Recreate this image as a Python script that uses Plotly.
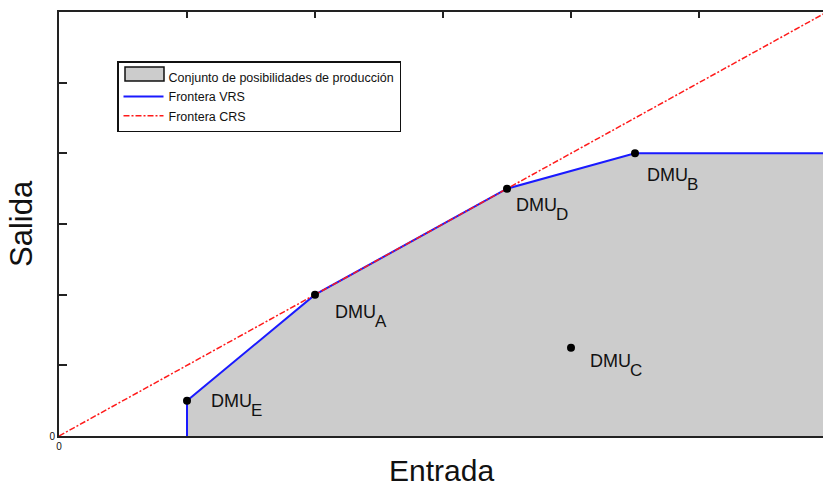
import plotly.graph_objects as go

# Observed DMUs (input, output)
dmu_names = ["A", "B", "C", "D", "E"]
dmu_input = [2.0, 4.5, 4.0, 3.5, 1.0]
dmu_output = [2.0, 4.0, 1.25, 3.5, 0.5]

# VRS frontier vertices (free disposal hull extended to the right edge)
vrs_x = [1.0, 1.0, 2.0, 3.5, 4.5, 6.0]
vrs_y = [0.0, 0.5, 2.0, 3.5, 4.0, 4.0]

# Production possibility set polygon
pps_x = [1.0, 1.0, 2.0, 3.5, 4.5, 6.0, 6.0, 1.0]
pps_y = [0.0, 0.5, 2.0, 3.5, 4.0, 4.0, 0.0, 0.0]

# CRS frontier: ray from the origin through the efficient DMUs
crs_x = [0.0, 6.0]
crs_y = [0.0, 6.0]

# Axis ticks
tick_vals = [0, 1, 2, 3, 4, 5, 6]
tick_text = ["0", "", "", "", "", "", ""]

# Label offsets in pixels (right, down) from each DMU marker
label_dx = {"A": 18, "B": 10, "C": 17, "D": 7, "E": 22}
label_dy = {"A": 17.5, "B": 22, "C": 13.5, "D": 16, "E": 0.5}

FONT = "Liberation Sans, Arial, sans-serif"
GRAY = "#cccccc"
INK = "#111111"

# plot area geometry (pixels) used to place the legend swatch
L, T, W, H = 59, 12, 764, 424


def px_to_paper(px, py):
    return (px - L) / W, (T + H - py) / H


fig = go.Figure()

fig.add_trace(go.Scatter(
    x=pps_x, y=pps_y, mode="lines", fill="toself", fillcolor=GRAY,
    line=dict(width=0), showlegend=False, hoverinfo="skip"))

# legend entry for the production possibility set (swatch drawn as a shape)
fig.add_trace(go.Scatter(
    x=[None], y=[None], mode="lines", fill="toself",
    fillcolor="rgba(0,0,0,0)", line=dict(color="rgba(0,0,0,0)", width=0),
    name="Conjunto de posibilidades de producción"))

fig.add_trace(go.Scatter(
    x=vrs_x, y=vrs_y, mode="lines",
    line=dict(color="#1a1aff", width=2), name="Frontera VRS"))

fig.add_trace(go.Scatter(
    x=crs_x, y=crs_y, mode="lines",
    line=dict(color="#ff1a1a", width=1.5, dash="6px,2px,2px,2px"),
    name="Frontera CRS"))

fig.add_trace(go.Scatter(
    x=dmu_input, y=dmu_output, mode="markers",
    marker=dict(color="black", size=8), showlegend=False))

annotations = []
for n, xv, yv in zip(dmu_names, dmu_input, dmu_output):
    dx, dy = label_dx[n], label_dy[n]
    annotations.append(dict(
        x=xv, y=yv, xref="x", yref="y", text="DMU", showarrow=False,
        xanchor="left", yanchor="middle", xshift=dx, yshift=-dy,
        font=dict(family=FONT, size=18, color=INK)))
    annotations.append(dict(
        x=xv, y=yv, xref="x", yref="y", text=n, showarrow=False,
        xanchor="left", yanchor="middle", xshift=dx + 40, yshift=-(dy + 9.5),
        font=dict(family=FONT, size=17, color=INK)))

annotations.append(dict(
    x=0.5, y=0, xref="paper", yref="paper", text="Entrada", showarrow=False,
    xanchor="center", yanchor="top", yshift=-16,
    font=dict(family=FONT, size=30, color=INK)))
annotations.append(dict(
    x=0, y=0.5, xref="paper", yref="paper", text="Salida", showarrow=False,
    textangle=-90, xanchor="center", yanchor="middle", xshift=-38,
    font=dict(family=FONT, size=31, color=INK)))

# grey swatch with dark outline for the first legend entry
sx0, sy0 = px_to_paper(125, 81)
sx1, sy1 = px_to_paper(164, 67)
shapes = [dict(
    type="rect", xref="paper", yref="paper", x0=sx0, x1=sx1, y0=sy0, y1=sy1,
    fillcolor=GRAY, line=dict(color=INK, width=1.5), layer="above")]

lx, ly = px_to_paper(117, 61)

fig.update_layout(
    width=823, height=486,
    margin=dict(l=L, r=823 - L - W, t=T, b=486 - T - H),
    plot_bgcolor="white", paper_bgcolor="white",
    font=dict(family=FONT, color=INK),
    annotations=annotations,
    shapes=shapes,
    legend=dict(
        x=lx, y=ly, xanchor="left", yanchor="top",
        bgcolor="rgba(0,0,0,0)", bordercolor=INK, borderwidth=1.5,
        font=dict(family=FONT, size=12.5, color=INK),
        itemwidth=40),
    xaxis=dict(
        range=[0, W / 128], tickvals=tick_vals, ticktext=tick_text,
        ticks="inside", ticklen=6, tickwidth=1.5, tickcolor="#222222",
        showline=True, linecolor="#222222", linewidth=2, mirror="ticks",
        showgrid=False, zeroline=False, layer="below traces",
        tickfont=dict(size=10, color=INK)),
    yaxis=dict(
        range=[0, 6], tickvals=tick_vals, ticktext=tick_text,
        ticks="inside", ticklen=8, tickwidth=1.5, tickcolor="#222222",
        showline=True, linecolor="#222222", linewidth=2, mirror=False,
        showgrid=False, zeroline=False,
        tickfont=dict(size=10, color=INK)),
)

fig.write_html("out.html")
